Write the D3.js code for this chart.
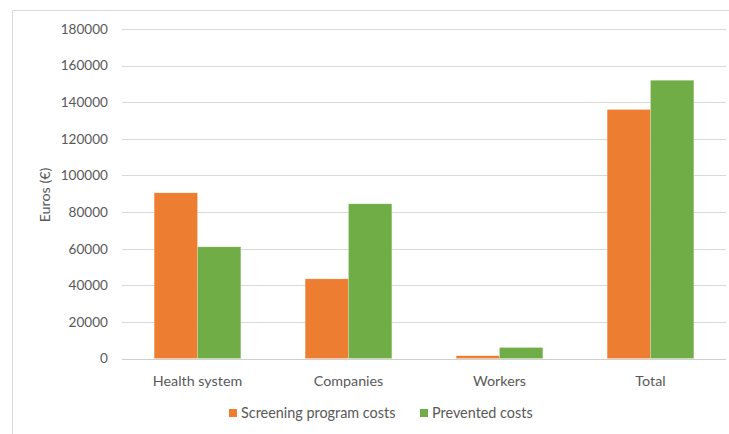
<!DOCTYPE html>
<html>
<head>
<meta charset="utf-8">
<script src="https://cdn.jsdelivr.net/npm/d3@7/dist/d3.min.js"></script>
<style>
  html, body { margin: 0; padding: 0; background: #fff; }
  svg { display: block; font-family: Lato, "Open Sans", sans-serif; }
</style>
</head>
<body>
<svg id="chart" width="729" height="434"></svg>
<script>
// Cost comparison by stakeholder
const categories = ["Health system", "Companies", "Workers", "Total"];
const seriesNames = ["Screening program costs", "Prevented costs"];
const screeningCosts = [90500, 43500, 1500, 136000];
const preventedCosts = [61000, 84500, 6000, 152000];
const yTicks = [0, 20000, 40000, 60000, 80000, 100000, 120000, 140000, 160000, 180000];
const colors = ["#ED7D31", "#70AD47"];

const rows = categories.map((c, i) => ({ category: c, values: [screeningCosts[i], preventedCosts[i]] }));

const svg = d3.select("#chart");
const margin = { left: 122, right: 3, top: 29, bottom: 75 };
const W = 729, H = 434;
const textColor = "#595959";

// outer frame (left and top edges visible)
svg.append("path")
  .attr("d", `M12.5,${H} L12.5,10.5 L${W},10.5`)
  .attr("fill", "none")
  .attr("stroke", "#d9d9d9")
  .attr("stroke-width", 1);

const x = d3.scaleBand()
  .domain(categories)
  .range([margin.left, W - margin.right])
  .paddingInner(0.426)
  .paddingOuter(0.213);

const x1 = d3.scaleBand()
  .domain(d3.range(seriesNames.length))
  .range([0, x.bandwidth()]);

const y = d3.scaleLinear()
  .domain([0, 180000])
  .range([H - margin.bottom - 0.5, margin.top]);

// gridlines
svg.append("g")
  .selectAll("line")
  .data(yTicks)
  .join("line")
  .attr("x1", margin.left)
  .attr("x2", W - margin.right)
  .attr("y1", d => Math.round(y(d)) + 0.5)
  .attr("y2", d => Math.round(y(d)) + 0.5)
  .attr("stroke", "#d9d9d9")
  .attr("stroke-width", 1);

// y-axis labels
const yAxis = d3.axisLeft(y).tickValues(yTicks).tickSize(0).tickPadding(0).tickFormat(d3.format("d"));
const gy = svg.append("g")
  .attr("transform", `translate(108,0)`)
  .call(yAxis);
gy.select(".domain").remove();
gy.selectAll("text")
  .attr("fill", textColor)
  .attr("font-size", 13.6)
  .attr("font-family", "Lato, sans-serif");

// bars
const groups = svg.append("g")
  .selectAll("g")
  .data(rows)
  .join("g")
  .attr("transform", d => `translate(${x(d.category)},0)`);

groups.selectAll("rect")
  .data(d => d.values.map((v, i) => ({ v, i })))
  .join("rect")
  .attr("x", d => x1(d.i))
  .attr("width", x1.bandwidth())
  .attr("y", d => y(d.v))
  .attr("height", d => y(0) - y(d.v))
  .attr("fill", d => colors[d.i])
  .attr("stroke", "#ffffff")
  .attr("stroke-opacity", 0.35)
  .attr("stroke-width", 0.6);

// baseline
svg.append("line")
  .attr("x1", margin.left)
  .attr("x2", W - margin.right)
  .attr("y1", Math.round(y(0)) + 0.5)
  .attr("y2", Math.round(y(0)) + 0.5)
  .attr("stroke", "#d0d0d0");

// x-axis labels
const xAxis = d3.axisBottom(x).tickSize(0).tickPadding(0);
const gx = svg.append("g")
  .attr("transform", `translate(0,${y(0) + 27})`)
  .call(xAxis);
gx.select(".domain").remove();
gx.selectAll("text")
  .attr("dy", 0)
  .attr("fill", textColor)
  .attr("font-size", 14.3)
  .attr("font-family", "Lato, sans-serif");

// y-axis title
svg.append("text")
  .attr("transform", "translate(50,195) rotate(-90)")
  .attr("text-anchor", "middle")
  .attr("fill", textColor)
  .attr("font-size", 14.3)
  .text("Euros (€)");

// legend
const legendItems = [
  { name: seriesNames[0], color: colors[0], x: 229 },
  { name: seriesNames[1], color: colors[1], x: 420 }
];
const lg = svg.append("g").selectAll("g")
  .data(legendItems)
  .join("g")
  .attr("transform", d => `translate(${d.x},409)`);
lg.append("rect")
  .attr("width", 8)
  .attr("height", 8)
  .attr("fill", d => d.color);
lg.append("text")
  .attr("x", 12)
  .attr("y", 9)
  .attr("fill", textColor)
  .attr("font-size", 14.4)
  .text(d => d.name);
</script>
</body>
</html>
